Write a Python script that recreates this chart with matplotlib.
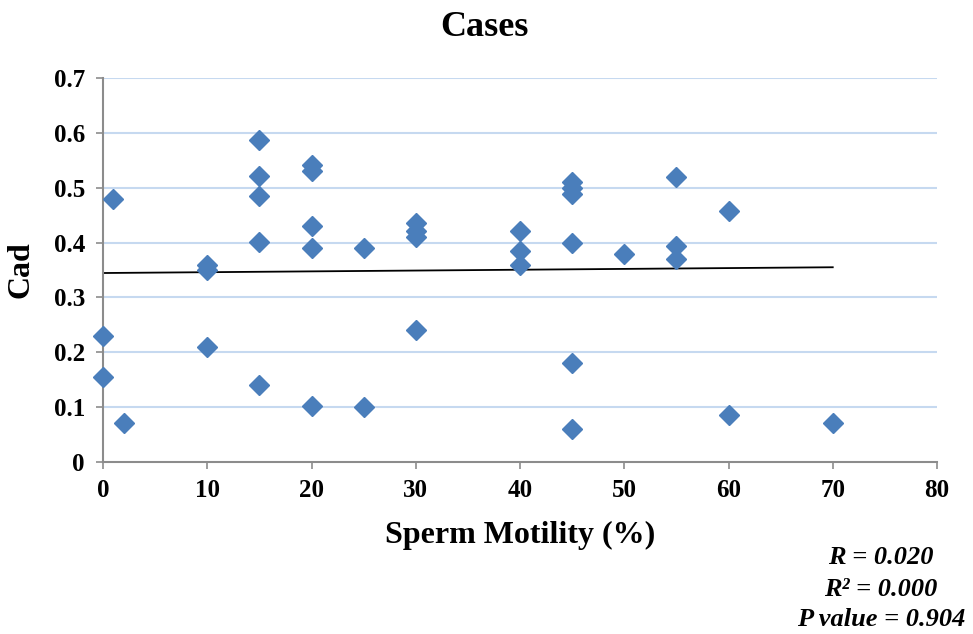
import matplotlib
matplotlib.use("Agg")
import matplotlib.pyplot as plt
import numpy as np

motility = [0, 0, 1, 2, 10, 10, 10, 15, 15, 15, 15, 15, 20, 20, 20, 20, 20,
            25, 25, 30, 30, 30, 30, 40, 40, 40, 45, 45, 45, 45, 45, 45,
            50, 55, 55, 55, 60, 60, 70]
cad = [0.23, 0.155, 0.48, 0.071, 0.36, 0.35, 0.21, 0.587, 0.521, 0.485, 0.401, 0.14,
       0.541, 0.530, 0.430, 0.390, 0.102,
       0.391, 0.10, 0.435, 0.422, 0.41, 0.24, 0.421, 0.385, 0.36,
       0.51, 0.499, 0.488, 0.40, 0.181, 0.061,
       0.38, 0.52, 0.393, 0.37, 0.458, 0.086, 0.071]

trend_x = [0, 70]
trend_intercept = 0.3445
trend_slope = 0.00015

xticks = [0, 10, 20, 30, 40, 50, 60, 70, 80]
yticks = [0, 0.1, 0.2, 0.3, 0.4, 0.5, 0.6, 0.7]
ytick_labels = ["0", "0.1", "0.2", "0.3", "0.4", "0.5", "0.6", "0.7"]

stats_lines = ["R = 0.020", "R² = 0.000", "P value = 0.904"]

plt.rcParams['font.family'] = ['Liberation Serif', 'DejaVu Serif']

fig = plt.figure(figsize=(9.73, 6.34), dpi=100)
ax = fig.add_axes([103/973, 1-462/634, (937-103)/973, (462-78)/634])

ax.set_xlim(0, 80)
ax.set_ylim(0, 0.7)

for y in yticks[1:]:
    ax.axhline(y, color='#c6d9f0', lw=1.5, zorder=1)

tx = np.array(trend_x, dtype=float)
ax.plot(tx, trend_intercept + trend_slope * tx, color='black', lw=1.3, zorder=2)

ax.plot(motility, cad, linestyle='none', marker='D', markersize=10,
        color='#4a7ebb', markeredgecolor='#4a7ebb', zorder=3, clip_on=False)

for s in ['top', 'right']:
    ax.spines[s].set_visible(False)
for s in ['left', 'bottom']:
    ax.spines[s].set_color('#8c8c8c')
    ax.spines[s].set_linewidth(1.5)

ax.set_xticks(xticks)
ax.set_yticks(yticks)
ax.set_yticklabels(ytick_labels)
ax.tick_params(axis='both', direction='out', length=5, width=1.2, color='#8c8c8c',
               labelsize=18)
for lab in ax.get_xticklabels() + ax.get_yticklabels():
    lab.set_fontweight('bold')
ax.tick_params(axis='x', pad=7)
ax.tick_params(axis='y', pad=8)

fig.text(484/973, 1 - 28/634, "Cases", ha='center', va='center', fontsize=26,
         fontweight='bold')

ax.set_xlabel("Sperm Motility (%)", fontsize=23, fontweight='bold')
ax.xaxis.label.set_va('center')
ax.xaxis.set_label_coords(0.5, -(535 - 462) / 384)
ax.set_ylabel("Cad", fontsize=23, fontweight='bold')
ax.yaxis.label.set_va('center')
ax.yaxis.label.set_ha('center')
ax.yaxis.set_label_coords((21 - 103) / 834, 0.5)

ys = [557, 589, 620]
for t, yp in zip(stats_lines, ys):
    fig.text(881/973, 1 - yp/634, t, ha='center', va='center', fontsize=19,
             fontweight='bold', fontstyle='italic')

fig.savefig("out.png", dpi=100)
